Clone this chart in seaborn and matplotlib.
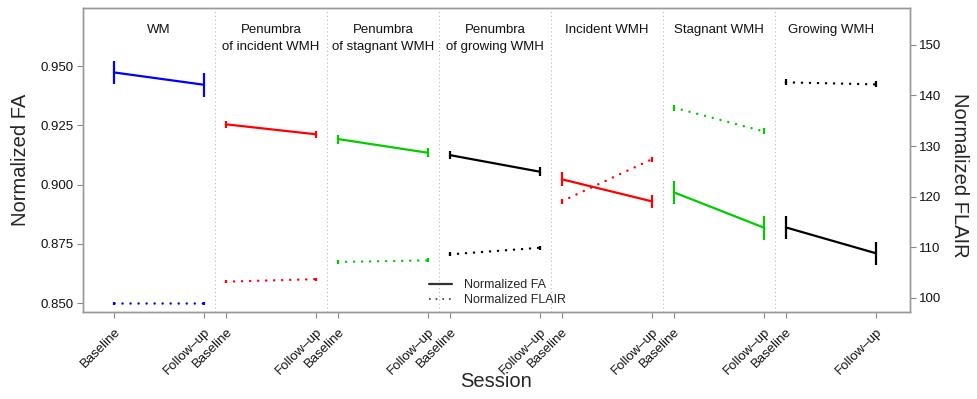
import numpy as np
import pandas as pd
import matplotlib
matplotlib.use("Agg")
import matplotlib.pyplot as plt
from matplotlib.lines import Line2D
import seaborn as sns

# ---------------- data ----------------
panels = ["WM", "Penumbra\nof incident WMH", "Penumbra\nof stagnant WMH",
          "Penumbra\nof growing WMH", "Incident WMH", "Stagnant WMH", "Growing WMH"]
panel_colors = ["#0000FF", "#FF0000", "#00CC00", "#000000", "#FF0000", "#00CC00", "#000000"]
sessions = ["Baseline", "Follow\u2013up"]

fa_baseline = [0.9473, 0.9254, 0.9192, 0.9124, 0.9022, 0.8967, 0.8819]
fa_followup = [0.9421, 0.9212, 0.9134, 0.9054, 0.8929, 0.8818, 0.8710]
fa_err_baseline = [0.0049, 0.0016, 0.0019, 0.0018, 0.0029, 0.0049, 0.0048]
fa_err_followup = [0.0050, 0.0014, 0.0019, 0.0018, 0.0028, 0.0050, 0.0048]

flair_baseline = [98.9, 103.2, 107.1, 108.6, 119.1, 137.6, 142.6]
flair_followup = [98.9, 103.7, 107.4, 109.9, 127.4, 132.9, 142.2]
flair_err_baseline = [0.3, 0.3, 0.4, 0.4, 0.5, 0.6, 0.6]
flair_err_followup = [0.3, 0.3, 0.4, 0.4, 0.5, 0.6, 0.6]

# ---------------- layout ----------------
step = 1.245
rows = []
for i, p in enumerate(panels):
    for j, s in enumerate(sessions):
        rows.append(dict(panel=p, session=s, x=i * step + j,
                         FA=[fa_baseline, fa_followup][j][i],
                         FA_err=[fa_err_baseline, fa_err_followup][j][i],
                         FLAIR=[flair_baseline, flair_followup][j][i],
                         FLAIR_err=[flair_err_baseline, flair_err_followup][j][i]))
df = pd.DataFrame(rows)

sns.set_theme(style="white")
plt.rcParams["font.family"] = ["Liberation Sans", "DejaVu Sans"]

fig = plt.figure(figsize=(9.77, 3.99), dpi=100)
ax = fig.add_axes([0.085, 0.218, 0.846, 0.762])
ax2 = ax.twinx()

pal = dict(zip(panels, panel_colors))
sns.lineplot(data=df, x="x", y="FA", hue="panel", palette=pal, units="panel",
             estimator=None, ax=ax, legend=False, lw=1.6)
sns.lineplot(data=df, x="x", y="FLAIR", hue="panel", palette=pal, units="panel",
             estimator=None, ax=ax2, legend=False, lw=1.8)
for ln in ax2.get_lines():
    ln.set_linestyle((0, (0.01, 3.2)))
    ln.set_dash_capstyle("round")

for p, c in zip(panels, panel_colors):
    d = df[df.panel == p]
    ax.errorbar(d.x, d.FA, yerr=d.FA_err, fmt="none", ecolor=c, elinewidth=1.6, capsize=0)
    ax2.errorbar(d.x, d.FLAIR, yerr=d.FLAIR_err, fmt="none", ecolor=c, elinewidth=1.6, capsize=0)

ax.set_xlim(-0.345, 8.845)
ax.set_ylim(0.8462, 0.9745)
ax2.set_ylim(97.2, 157.3)

# panel separators and titles
for i, p in enumerate(panels):
    if i > 0:
        ax.axvline(i * step - (step - 1) / 2, color="#BBBBBB", ls=(0, (1, 2.5)), lw=0.8, zorder=0)
    ax.text(i * step + 0.5, 0.948, p, transform=ax.get_xaxis_transform(), ha="center",
            va="top", fontsize=9.5, linespacing=1.6, color="#111111")

ax.set_xticks(df.x)
ax.set_xticklabels(df.session, rotation=45, ha="right", rotation_mode="anchor", fontsize=9.5)
ax.set_yticks([0.850, 0.875, 0.900, 0.925, 0.950])
ax.set_yticklabels(["0.850", "0.875", "0.900", "0.925", "0.950"], fontsize=9.5)
ax2.set_yticks([100, 110, 120, 130, 140, 150])
ax2.set_yticklabels(["100", "110", "120", "130", "140", "150"], fontsize=9.5)

for a in (ax, ax2):
    a.tick_params(axis="both", which="both", length=4, width=0.8, color="#888888",
                  labelcolor="#111111", pad=3)
    for sp in a.spines.values():
        sp.set_color("#999999")
        sp.set_linewidth(1.0)
ax.tick_params(axis="x", bottom=True, pad=6)
ax.tick_params(axis="y", left=True)
ax2.tick_params(axis="y", right=True)

ax.set_xlabel("Session", fontsize=14.5, va="center")
ax.xaxis.set_label_coords(0.5, -0.23)
ax.set_ylabel("Normalized FA", fontsize=14.5, va="center")
ax.yaxis.set_label_coords(-0.076, 0.5)
ax2.set_ylabel("Normalized FLAIR", fontsize=14.5, rotation=-90, va="center")
ax2.yaxis.set_label_coords(1.0605, 0.45)

handles = [Line2D([0], [0], color="#333333", lw=1.6),
           Line2D([0], [0], color="#333333", lw=1.2, ls=(0, (1, 3)))]
ax.legend(handles, ["Normalized FA", "Normalized FLAIR"], loc="upper left",
          bbox_to_anchor=(0.412, 0.125), frameon=False, fontsize=9, handlelength=1.9,
          handletextpad=0.9, borderaxespad=0, labelspacing=0.25)

fig.savefig("out.png", dpi=100)
